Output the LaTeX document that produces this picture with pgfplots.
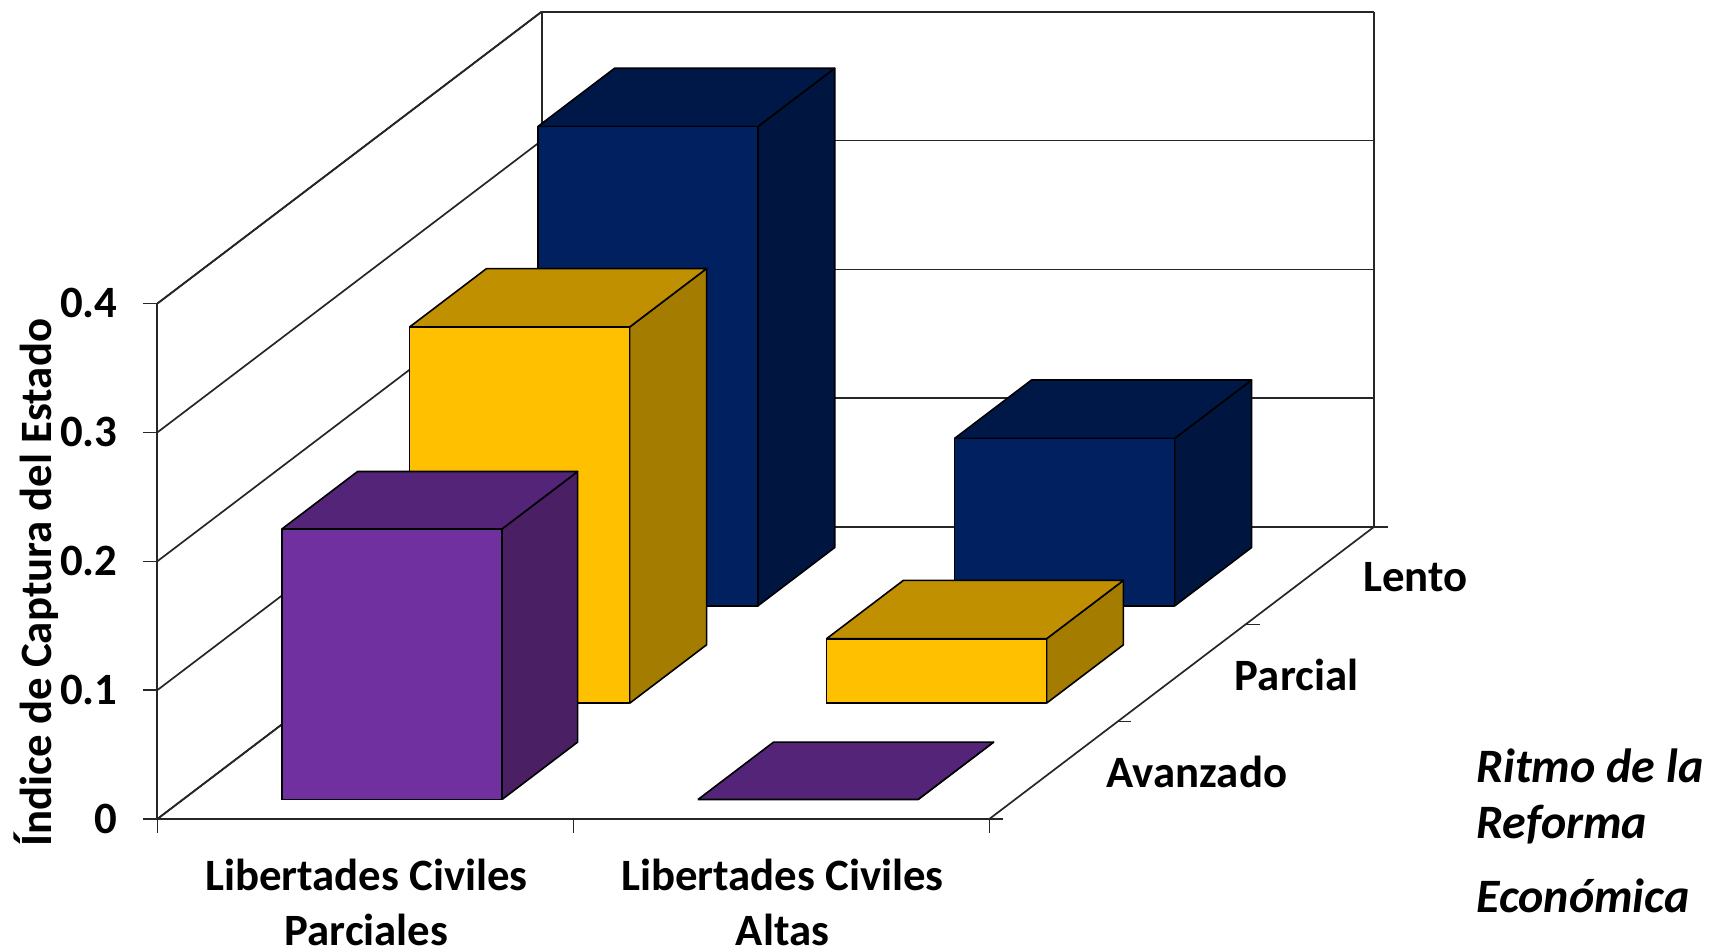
\documentclass[border=0pt]{standalone}
\usepackage{fontspec}
\setmainfont{Carlito}
\usepackage{pgfplots}
\pgfplotsset{compat=1.18}
\definecolor{purF}{HTML}{7030A0}\definecolor{purT}{HTML}{542478}\definecolor{purS}{HTML}{4A1F63}
\definecolor{yelF}{HTML}{FFC000}\definecolor{yelT}{HTML}{C09000}\definecolor{yelS}{HTML}{A37C00}
\definecolor{navF}{HTML}{002060}\definecolor{navT}{HTML}{001848}\definecolor{navS}{HTML}{001540}
% #1 x0, #2 x1, #3 y0, #4 y1, #5 value, #6 colour stem
\newcommand{\barbox}[6]{%
 \addplot3[fill=#6S,draw=black,line width=.8pt,line join=round,mark=none] coordinates {(#2,#3,0)(#2,#4,0)(#2,#4,#5)(#2,#3,#5)(#2,#3,0)};
 \addplot3[fill=#6T,draw=black,line width=.8pt,line join=round,mark=none] coordinates {(#1,#3,#5)(#2,#3,#5)(#2,#4,#5)(#1,#4,#5)(#1,#3,#5)};
 \addplot3[fill=#6F,draw=black,line width=.8pt,line join=round,mark=none] coordinates {(#1,#3,0)(#2,#3,0)(#2,#3,#5)(#1,#3,#5)(#1,#3,0)};
}
\newcommand{\bigtext}{\fontsize{22.4}{27.4}\selectfont\bfseries}
\newcommand{\ittext}{\fontsize{24}{27}\selectfont\bfseries\itshape}
\begin{document}
\begin{tikzpicture}
\path[use as bounding box] (-78.65pt,-64.5pt) rectangle ++(859.5pt,474pt);
\begin{axis}[
  at={(0,0)}, anchor=origin, clip=false,
  x={(208pt,0pt)}, y={(64.07pt,48.65pt)}, z={(0pt,644.25pt)},
  xmin=0,xmax=2,ymin=0,ymax=3,zmin=0,zmax=0.4,
  3d box=background,
  axis line style={black!85,line width=.85pt},
  grid style={black!85,line width=.85pt},
  major tick length=0pt, minor tick length=0pt,
  tick style={draw=none},
  zmajorgrids,
  xtick={0.5,1.5},
  xticklabels={{Libertades Civiles\\Parciales},{Libertades Civiles\\Altas}},
  ytick={0.5,1.5,2.5},
  yticklabels={Avanzado,Parcial,Lento},
  ztick={0,0.1,0.2,0.3,0.4},
  zticklabels={0,0.1,0.2,0.3,0.4},
  xticklabel pos=lower, yticklabel pos=lower, zticklabel pos=left,
  ticklabel style={font=\bigtext},
  xticklabel style={align=center,anchor=north,yshift=-16.7pt,xshift=0.6pt},
  yticklabel style={anchor=west,xshift=23.2pt,yshift=-0.8pt},
  zticklabel style={anchor=east,xshift=-16.4pt,yshift=0.2pt},
  zlabel={Índice de Captura del Estado},
  zlabel style={font=\bigtext,xshift=10.9pt,yshift=-3.8pt},
]
\pgfplotsinvokeforeach{0,0.1,0.2,0.3,0.4}{\draw[black!85,line width=.7pt] (axis cs:0,0,#1) -- ++(-7pt,0pt);}
\pgfplotsinvokeforeach{0,1,2}{\draw[black!85,line width=.7pt] (axis cs:#1,0,0) -- ++(0pt,-7pt);}
\pgfplotsinvokeforeach{0,1,2,3}{\draw[black!85,line width=.7pt] (axis cs:2,#1,0) -- ++(7pt,0pt);}
\barbox{0.240}{0.769}{2.19}{2.79}{0.372}{nav}
\barbox{1.242}{1.771}{2.19}{2.79}{0.13}{nav}
\barbox{0.240}{0.769}{1.19}{1.79}{0.292}{yel}
\barbox{1.242}{1.771}{1.19}{1.79}{0.05}{yel}
\barbox{0.238}{0.767}{0.2}{0.79}{0.21}{pur}
\barbox{1.238}{1.767}{0.2}{0.79}{0}{pur}
\end{axis}
\node[anchor=base west,font=\ittext] at (656pt,18.5pt) {Ritmo de la};
\node[anchor=base west,font=\ittext] at (656pt,-9.5pt) {Reforma};
\node[anchor=base west,font=\ittext] at (656pt,-46.5pt) {Económica};
\end{tikzpicture}
\end{document}
